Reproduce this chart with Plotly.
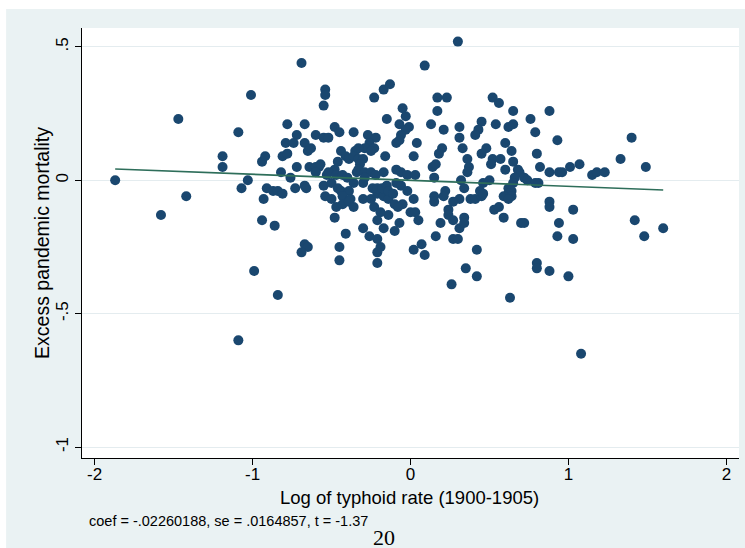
import plotly.graph_objects as go

# Residualised log typhoid rate (1900-1905) vs. residualised excess pandemic mortality
log_typhoid = [
    -1.87, -1.58, -1.47, -1.42, -1.19, -1.19, -1.09, -1.07, -1.03, -1.01,
    -0.99, -1.09, -0.94, -0.92, -0.93, -0.94, -0.91, -0.87, -0.84, -0.81,
    -0.86, -0.84, -0.82, -0.79, -0.81, -0.78, -0.78, -0.76, -0.69, -0.67,
    -0.72, -0.74, -0.67, -0.65, -0.63, -0.60, -0.72, -0.64, -0.60, -0.58,
    -0.60, -0.55, -0.55, -0.54, -0.54, -0.73, -0.67, -0.66, -0.55, -0.53,
    -0.67, -0.65, -0.69, -0.45, -0.45, -0.48, -0.45, -0.52, -0.57, -0.48,
    -0.52, -0.47, -0.50, -0.46, -0.44, -0.54, -0.50, -0.47, -0.48, -0.44,
    -0.46, -0.43, -0.41, -0.39, -0.40, -0.39, -0.43, -0.38, -0.43, -0.39,
    -0.36, -0.41, -0.30, -0.26, -0.21, -0.19, -0.21, -0.21, -0.17, -0.14,
    -0.10, -0.07, -0.23, -0.19, -0.21, -0.30, -0.25, -0.21, -0.17, -0.14,
    -0.10, -0.36, -0.27, -0.22, -0.26, -0.29, -0.33, -0.35, -0.36, -0.23,
    -0.25, -0.33, -0.30, -0.32, -0.34, -0.33, -0.29, -0.25, -0.22, -0.17,
    -0.36, -0.30, -0.29, -0.24, -0.21, -0.18, -0.15, -0.14, -0.11, -0.09,
    -0.23, -0.17, -0.13, -0.15, -0.09, -0.16, -0.09, -0.05, -0.03, -0.07,
    -0.01, -0.03, -0.06, -0.07, 0.02, 0.04, -0.06, -0.06, -0.02, -0.02,
    0.03, 0.09, 0.17, 0.23, 0.17, 0.13, 0.21, 0.20, 0.18, 0.14,
    0.16, 0.15, 0.31, 0.31, 0.33, 0.22, 0.21, 0.15, 0.31, -0.05,
    -0.08, 0.02, 0.00, 0.03, 0.05, 0.15, 0.19, 0.16, 0.07, 0.02,
    0.09, 0.27, 0.24, 0.24, 0.27, 0.31, 0.34, 0.34, 0.38, 0.41,
    0.45, 0.27, 0.30, 0.42, 0.35, 0.42, 0.26, 0.30, 0.52, 0.56,
    0.65, 0.88, 0.76, 0.79, 0.93, 0.54, 0.62, 0.65, 0.45, 0.43,
    0.41, 0.60, 0.64, 0.65, 0.80, 0.82, 0.48, 0.45, 0.52, 0.57,
    0.51, 0.36, 0.37, 0.36, 0.60, 0.68, 0.69, 0.72, 0.74, 0.66,
    0.65, 0.62, 0.64, 0.62, 0.64, 0.81, 0.88, 0.94, 0.96, 1.01,
    1.07, 1.15, 1.18, 1.23, 1.33, 0.50, 0.46, 0.32, 0.34, 0.44,
    0.46, 0.59, 0.62, 0.53, 0.56, 0.59, 0.70, 0.72, 0.88, 0.88,
    1.03, 0.94, 0.93, 1.03, 0.80, 0.80, 0.88, 1.00, 0.63, 0.79,
    1.40, 1.49, 1.42, 1.48, 1.60, 1.08,
]

excess_mortality = [
    0.00, -0.13, 0.23, -0.06, 0.09, 0.05, 0.18, -0.03, 0.00, 0.32,
    -0.34, -0.60, 0.07, 0.09, -0.07, -0.15, -0.03, -0.04, -0.04, -0.05,
    -0.17, -0.43, 0.03, 0.14, 0.09, 0.10, 0.21, 0.01, 0.44, 0.21,
    0.17, 0.14, 0.14, 0.11, 0.12, 0.17, 0.05, 0.05, 0.05, 0.05,
    0.03, 0.16, 0.28, 0.34, 0.32, -0.03, -0.02, -0.03, -0.02, 0.02,
    -0.24, -0.25, -0.27, -0.25, -0.30, 0.20, 0.18, 0.16, 0.06, 0.04,
    0.03, 0.02, -0.01, -0.03, -0.04, -0.06, -0.07, -0.10, -0.14, 0.11,
    0.07, 0.02, 0.09, 0.08, 0.01, -0.04, -0.06, -0.07, -0.09, -0.08,
    -0.10, -0.20, -0.18, -0.21, -0.22, -0.25, -0.27, -0.31, -0.18, -0.13,
    -0.19, -0.16, -0.10, -0.12, -0.15, -0.07, -0.07, -0.05, -0.06, -0.07,
    -0.09, 0.18, 0.17, 0.16, 0.14, 0.12, 0.12, 0.11, 0.09, 0.12,
    0.11, 0.08, 0.08, 0.06, 0.03, 0.04, 0.03, 0.03, 0.02, 0.03,
    -0.01, -0.01, 0.01, -0.03, -0.03, -0.03, -0.02, -0.04, -0.05, -0.01,
    0.31, 0.34, 0.36, 0.23, 0.14, 0.09, 0.04, 0.27, 0.24, 0.21,
    0.20, 0.19, 0.17, 0.15, 0.09, 0.14, 0.03, -0.02, -0.04, 0.02,
    0.02, 0.43, 0.31, 0.31, 0.26, 0.21, 0.19, 0.12, 0.10, 0.05,
    0.06, 0.01, 0.20, 0.16, 0.12, -0.04, -0.06, -0.06, -0.07, -0.09,
    -0.10, -0.07, -0.12, -0.12, -0.15, -0.08, -0.16, -0.21, -0.24, -0.26,
    -0.28, -0.08, -0.11, -0.13, -0.15, -0.18, -0.14, -0.16, -0.07, -0.07,
    -0.06, -0.22, -0.22, -0.26, -0.33, -0.36, -0.39, 0.52, 0.31, 0.29,
    0.26, 0.26, 0.23, 0.18, 0.15, 0.21, 0.20, 0.21, 0.22, 0.19,
    0.17, 0.14, 0.11, 0.07, 0.10, 0.05, 0.12, 0.10, 0.08, 0.08,
    0.06, 0.08, 0.05, 0.03, 0.04, 0.04, 0.03, 0.01, 0.00, 0.01,
    -0.01, -0.03, -0.04, -0.05, -0.06, -0.01, 0.03, 0.03, 0.03, 0.05,
    0.06, 0.02, 0.03, 0.03, 0.08, 0.00, -0.01, 0.00, -0.03, -0.04,
    -0.05, -0.06, -0.07, -0.11, -0.10, -0.14, -0.16, -0.16, -0.08, -0.10,
    -0.11, -0.16, -0.21, -0.22, -0.31, -0.33, -0.34, -0.36, -0.44, -0.01,
    0.16, 0.05, -0.15, -0.21, -0.18, -0.65,
]

# Regression summary
coef = -0.02260188
se = 0.0164857
t_stat = -1.37
intercept = 0.0

x_ticks = [-2, -1, 0, 1, 2]
y_ticks = [-1, -0.5, 0, 0.5]
y_tick_text = ["-1", "-.5", "0", ".5"]

NAVY = "#1A476F"
FIT_GREEN = "#2E6E5A"
FRAME_BG = "#EAF2F3"
GRID = "#E4ECEF"

x_lo, x_hi = min(log_typhoid), max(log_typhoid)

fig = go.Figure()
fig.add_trace(go.Scatter(
    x=log_typhoid, y=excess_mortality, mode="markers",
    marker=dict(color=NAVY, size=10, line=dict(width=0)),
    showlegend=False, hoverinfo="x+y",
))
fig.add_trace(go.Scatter(
    x=[x_lo, x_hi], y=[intercept + coef * x_lo, intercept + coef * x_hi],
    mode="lines", line=dict(color=FIT_GREEN, width=1.6),
    showlegend=False, hoverinfo="skip",
))

font_sans = "Liberation Sans, Arial, sans-serif"

fig.update_layout(
    width=745, height=548,
    margin=dict(l=82, r=6, t=28, b=90),
    paper_bgcolor=FRAME_BG,
    plot_bgcolor="white",
    font=dict(family=font_sans, color="black", size=17),
    xaxis=dict(
        range=[-2.08, 2.08], tickmode="array", tickvals=x_ticks,
        ticktext=[str(v) for v in x_ticks],
        showgrid=False, zeroline=False, showline=True, linecolor="black",
        linewidth=1, ticks="outside", ticklen=6, tickcolor="black",
        tickfont=dict(size=17), ticklabelstandoff=-5,
    ),
    yaxis=dict(
        range=[-1.041, 0.571], tickmode="array", tickvals=y_ticks,
        ticktext=y_tick_text, tickangle=-90,
        showgrid=True, gridcolor=GRID, gridwidth=1, zeroline=False,
        showline=True, linecolor="black", linewidth=1, ticks="outside",
        ticklen=6, tickcolor="black", tickfont=dict(size=17),
    ),
    annotations=[
        dict(text="Log of typhoid rate (1900-1905)", xref="paper", yref="paper",
             x=0.499, y=-0.091, xanchor="center", yanchor="middle",
             showarrow=False, font=dict(size=18.5)),
        dict(text="Excess pandemic mortality", xref="paper", yref="paper",
             x=-0.061, y=0.5, xanchor="center", yanchor="middle",
             textangle=-90, showarrow=False, font=dict(size=19.5)),
        dict(text=f"coef = {coef:.8f}".replace("0.", ".", 1)
             + f", se = {se:.7f}".replace("0.", ".", 1)
             + f", t = {t_stat:.2f}",
             xref="paper", yref="paper", x=0.0076, y=-0.146,
             xanchor="left", yanchor="middle", showarrow=False,
             font=dict(size=14.5)),
        dict(text="20", xref="paper", yref="paper", x=0.4600, y=-0.151,
             xanchor="center", yanchor="top", showarrow=False,
             font=dict(size=22, family="Liberation Serif, Times New Roman, serif")),
    ],
    shapes=[
        dict(type="rect", xref="paper", yref="paper", x0=-0.2, x1=-0.1155,
             y0=-0.4, y1=1.2, fillcolor="white", line=dict(width=0), layer="below"),
        dict(type="rect", xref="paper", yref="paper", x0=-0.2, x1=1.2,
             y0=1.0442, y1=1.2, fillcolor="white", line=dict(width=0), layer="below"),
    ],
)

fig.write_html("out.html")
